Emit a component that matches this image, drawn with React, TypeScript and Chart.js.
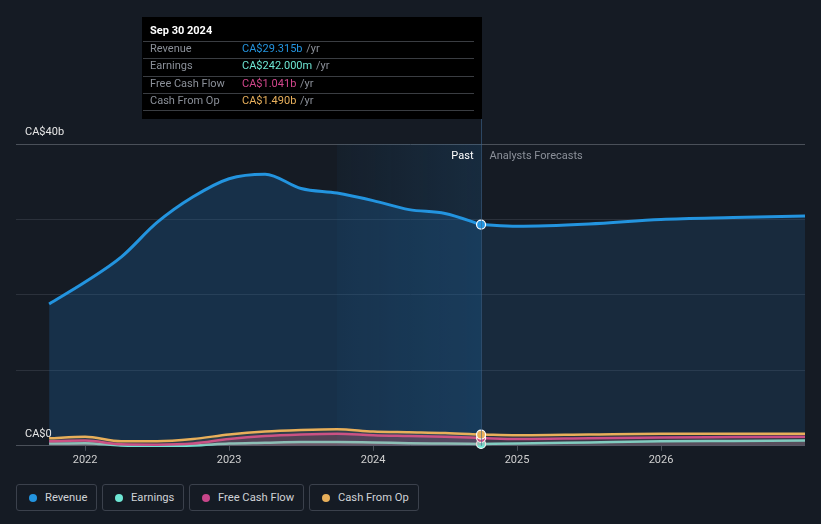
import React, { useEffect, useRef } from "react";
import { Chart, registerables } from "chart.js";

Chart.register(...registerables);

const quarters = [2021.75, 2022.0, 2022.25, 2022.5, 2022.75, 2023.0, 2023.25, 2023.5, 2023.75, 2024.0, 2024.25, 2024.5, 2024.75];
const revenuePast = [18.8, 21.7, 25.0, 29.6, 33.0, 35.4, 36.0, 34.1, 33.5, 32.5, 31.3, 30.8, 29.315];
const earningsPast = [0.3, 0.35, 0.05, 0.0, 0.05, 0.3, 0.4, 0.5, 0.5, 0.45, 0.35, 0.3, 0.242];
const fcfPast = [0.6, 0.7, 0.2, 0.15, 0.3, 0.9, 1.3, 1.5, 1.6, 1.4, 1.3, 1.2, 1.041];
const cfoPast = [1.0, 1.2, 0.6, 0.6, 0.9, 1.5, 1.9, 2.1, 2.2, 1.9, 1.8, 1.7, 1.49];

const forecastYears = [2024.75, 2025.0, 2025.5, 2026.0, 2026.5, 2027.0];
const revenueFc = [29.315, 29.1, 29.4, 30.0, 30.25, 30.45];
const earningsFc = [0.242, 0.3, 0.45, 0.6, 0.65, 0.7];
const fcfFc = [1.041, 0.9, 1.0, 1.1, 1.15, 1.2];
const cfoFc = [1.49, 1.4, 1.5, 1.6, 1.6, 1.6];

const xTicks = [2022, 2023, 2024, 2025, 2026];
const yTicks = [0, 10, 20, 30, 40];
const yLabels = ["CA$0", "CA$40b"];

const tooltipTitle = "Sep 30 2024";
const tooltipRows = [
  { label: "Revenue", value: "CA$29.315b", color: "#2394df" },
  { label: "Earnings", value: "CA$242.000m", color: "#6ee6d4" },
  { label: "Free Cash Flow", value: "CA$1.041b", color: "#d2468c" },
  { label: "Cash From Op", value: "CA$1.490b", color: "#e8b05c" },
];

const legendItems = [
  { label: "Revenue", color: "#2394df", w: 81 },
  { label: "Earnings", color: "#6ee6d4", w: 82 },
  { label: "Free Cash Flow", color: "#c8468a", w: 115 },
  { label: "Cash From Op", color: "#e8af5a", w: 110 },
];

const FONT = "Roboto, 'Open Sans', sans-serif";
const NOW = 2024.75;
const BAND_START = 2023.75;

function pts(xs: number[], ys: number[]) {
  return xs.map((x, i) => ({ x, y: ys[i] }));
}

export default function App() {
  const ref = useRef<HTMLCanvasElement | null>(null);

  useEffect(() => {
    document.body.style.margin = "0";
    document.body.style.background = "#151b24";
    const canvas = ref.current;
    if (!canvas) return;

    const lastIdx = quarters.length - 1;
    const radiusPast = (i: number) => (i === lastIdx ? 4.5 : 0);

    const mk = (label: string, data: any[], color: string, fill: string, width: number, marker: boolean) => ({
      label,
      data,
      borderColor: color,
      backgroundColor: fill,
      borderWidth: width,
      fill: "origin",
      tension: 0.4,
      cubicInterpolationMode: "monotone" as const,
      pointRadius: marker ? data.map((_: any, i: number) => radiusPast(i)) : 0,
      pointBackgroundColor: color,
      pointBorderColor: "#ffffff",
      pointBorderWidth: 1.2,
      clip: false as any,
    });

    const bandPlugin = {
      id: "band",
      beforeDatasetsDraw(chart: any) {
        const { ctx, chartArea, scales } = chart;
        const x0 = scales.x.getPixelForValue(BAND_START);
        const x1 = scales.x.getPixelForValue(NOW);
        const g = ctx.createLinearGradient(x0, 0, x1, 0);
        g.addColorStop(0, "rgba(35,110,170,0.06)");
        g.addColorStop(1, "rgba(35,110,170,0.2)");
        ctx.save();
        ctx.fillStyle = g;
        ctx.fillRect(x0, chartArea.top, x1 - x0, chartArea.bottom - chartArea.top);
        ctx.restore();
      },
      afterDatasetsDraw(chart: any) {
        const { ctx, chartArea, scales } = chart;
        const x1 = Math.round(scales.x.getPixelForValue(NOW)) + 0.5;
        ctx.save();
        ctx.strokeStyle = "rgba(60,100,140,0.6)";
        ctx.lineWidth = 1;
        ctx.beginPath();
        ctx.moveTo(x1, 119);
        ctx.lineTo(x1, chartArea.bottom);
        ctx.stroke();

        // Y labels
        ctx.fillStyle = "#e6e6e6";
        ctx.font = `11px ${FONT}`;
        ctx.textBaseline = "middle";
        ctx.textAlign = "left";
        const y0 = scales.y.getPixelForValue(0);
        const y40 = scales.y.getPixelForValue(40);
        ctx.fillText(yLabels[0], 25, y0 - 12);
        ctx.fillText(yLabels[1], 25, y40 - 12);

        // Past / forecast labels
        ctx.textAlign = "right";
        ctx.fillStyle = "#ffffff";
        ctx.fillText("Past", x1 - 8, y40 + 12);
        ctx.textAlign = "left";
        ctx.fillStyle = "#8b9099";
        ctx.fillText("Analysts Forecasts", x1 + 8, y40 + 12);

        // Tooltip box
        const right = x1 + 0.5;
        const left = 142;
        const top = 17;
        const h = 102;
        ctx.fillStyle = "#000000";
        ctx.fillRect(left, top, right - left, h);
        ctx.fillStyle = "#ffffff";
        ctx.font = `bold 11px ${FONT}`;
        ctx.fillText(tooltipTitle, 150, 31.5);
        ctx.strokeStyle = "#3a3d42";
        ctx.lineWidth = 1;
        const sepY = [41.5, 58.5, 76.5, 93.5, 110.5];
        sepY.forEach((y) => {
          ctx.beginPath();
          ctx.moveTo(left + 1, y);
          ctx.lineTo(right - 8, y);
          ctx.stroke();
        });
        const rowY = [49.5, 66.5, 84.5, 101.5];
        tooltipRows.forEach((r, i) => {
          ctx.font = `11px ${FONT}`;
          ctx.fillStyle = "#8b9099";
          ctx.fillText(r.label, 150, rowY[i]);
          ctx.fillStyle = r.color;
          ctx.fillText(r.value, 242, rowY[i]);
          const w = ctx.measureText(r.value).width;
          ctx.fillStyle = "#8b9099";
          ctx.fillText(" /yr", 242 + w + 1, rowY[i]);
        });
        ctx.restore();
      },
    };

    const chart = new Chart(canvas, {
      type: "line",
      data: {
        datasets: [
          mk("Cash From Op", pts(quarters, cfoPast), "#e8af5a", "rgba(232,175,90,0.12)", 2.5, true),
          mk("Cash From Op F", pts(forecastYears, cfoFc), "#e8af5a", "rgba(232,175,90,0.08)", 2.5, false),
          mk("Free Cash Flow", pts(quarters, fcfPast), "#c8468a", "rgba(200,70,138,0.22)", 2.5, true),
          mk("Free Cash Flow F", pts(forecastYears, fcfFc), "#c8468a", "rgba(200,70,138,0.14)", 2.5, false),
          mk("Earnings", pts(quarters, earningsPast), "#6ee6d4", "rgba(120,130,140,0.4)", 2.5, true),
          mk("Earnings F", pts(forecastYears, earningsFc), "#6ee6d4", "rgba(120,130,140,0.35)", 2.5, false),
          mk("Revenue", pts(quarters, revenuePast), "#2394df", "rgba(30,100,160,0.3)", 3, true),
          mk("Revenue F", pts(forecastYears, revenueFc), "#2394df", "rgba(35,95,150,0.22)", 3, false),
        ] as any,
      },
      options: {
        animation: false,
        responsive: false,
        maintainAspectRatio: false,
        events: [],
        layout: { padding: { top: 144, left: 16, right: 16, bottom: 5 } },
        plugins: { legend: { display: false }, tooltip: { enabled: false } },
        scales: {
          x: {
            type: "linear",
            min: 2021.52,
            max: 2027.0,
            afterBuildTicks: (axis: any) => {
              axis.ticks = xTicks.map((v) => ({ value: v }));
            },
            ticks: {
              color: "#d0d0d0",
              font: { family: FONT, size: 11 },
              padding: 3,
              maxRotation: 0,
              callback: (v: any) => String(v),
            },
            grid: { drawOnChartArea: false, drawTicks: true, tickLength: 5, color: "#4a5059" },
            border: { display: false },
          },
          y: {
            min: 0,
            max: 40,
            afterBuildTicks: (axis: any) => {
              axis.ticks = yTicks.map((v) => ({ value: v }));
            },
            ticks: { display: false },
            grid: {
              drawTicks: false,
              color: (c: any) => (c.tick && (c.tick.value === 40 || c.tick.value === 0) ? "#4a5059" : "#2b313b"),
            },
            border: { display: false },
          },
        },
      },
      plugins: [bandPlugin],
    });
    return () => chart.destroy();
  }, []);

  return (
    <div style={{ position: "relative", width: 821, height: 524, background: "#151b24", fontFamily: FONT, overflow: "hidden" }}>
      <canvas ref={ref} width={821} height={475} style={{ position: "absolute", left: 0, top: 0, width: 821, height: 475 }} />
      <div style={{ position: "absolute", left: 16, top: 484, display: "flex", gap: 5 }}>
        {legendItems.map((it) => (
          <div
            key={it.label}
            style={{
              boxSizing: "border-box",
              width: it.w,
              height: 27,
              border: "1px solid #3b414c",
              borderRadius: 3,
              display: "flex",
              alignItems: "center",
              paddingLeft: 12,
              color: "#cfd2d6",
              fontSize: 11.2,
            }}
          >
            <span style={{ width: 8, height: 8, borderRadius: 4, background: it.color, marginRight: 8, flex: "none" }} />
            <span>{it.label}</span>
          </div>
        ))}
      </div>
    </div>
  );
}
